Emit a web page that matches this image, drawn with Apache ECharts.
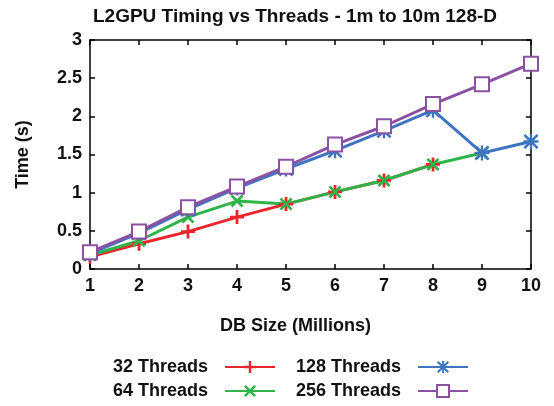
<!DOCTYPE html>
<html>
<head>
<meta charset="utf-8">
<script src="https://cdn.jsdelivr.net/npm/echarts@6/dist/echarts.min.js"></script>
<style>
  html, body { margin: 0; padding: 0; background: #fff; }
  #main { width: 554px; height: 406px; }
</style>
</head>
<body>
<div id="main"></div>
<script>
// 数据
var dbSize = [1, 2, 3, 4, 5, 6, 7, 8, 9, 10];
var t32 = [0.16, 0.33, 0.49, 0.68, 0.85, 1.01, 1.16, 1.37];
var t64 = [0.18, 0.37, 0.68, 0.89, 0.85, 1.01, 1.16, 1.37, 1.52];
var t128 = [0.20, 0.47, 0.78, 1.06, 1.31, 1.55, 1.81, 2.08, 1.52, 1.67];
var t256 = [0.22, 0.49, 0.81, 1.08, 1.34, 1.63, 1.87, 2.16, 2.42, 2.69];
var names = ["32 Threads", "64 Threads", "128 Threads", "256 Threads"];

function pairs(vals) {
  return vals.map(function (v, i) { return [dbSize[i], v]; });
}

var font = "'Liberation Sans', Arial, sans-serif";
var plus = "path://M4,0H6V4H10V6H6V10H4V6H0V4H4Z";
var cross = "path://M1.5,0L5,3.5L8.5,0L10,1.5L6.5,5L10,8.5L8.5,10L5,6.5L1.5,10L0,8.5L3.5,5L0,1.5Z";
var star = "path://M4.2,0H5.8V10H4.2Z M0,4.2H10V5.8H0Z M1.2,0L5,3.8L8.8,0L10,1.2L6.2,5L10,8.8L8.8,10L5,6.2L1.2,10L0,8.8L3.8,5L0,1.2Z";

var myChart = echarts.init(document.getElementById("main"));

var axisText = { fontFamily: font, fontWeight: "bold", fontSize: 18, color: "#111" };
var lineStyle = { color: "#000", width: 1.5 };
var legendText = { fontFamily: font, fontWeight: "bold", fontSize: 18, color: "#111", padding: [0, 12, 0, 0] };

var option = {
  animation: false,
  title: {
    text: "L2GPU Timing vs Threads - 1m to 10m 128-D",
    left: 88,
    top: 2,
    textStyle: { fontFamily: font, fontWeight: "bold", fontSize: 19, color: "#111" },
  },
  grid: { left: 90, right: 23, top: 40, bottom: 137 },
  legend: [
    {
      data: [names[0], names[1]],
      orient: "vertical",
      right: 273,
      top: 353,
      align: "right",
      itemWidth: 50,
      itemHeight: 15,
      itemGap: 6,
      textStyle: legendText,
    },
    {
      data: [names[2], names[3]],
      orient: "vertical",
      right: 80,
      top: 353,
      align: "right",
      itemWidth: 50,
      itemHeight: 15,
      itemGap: 6,
      textStyle: legendText,
    },
  ],
  xAxis: [
    {
      type: "value",
      min: 1,
      max: 10,
      interval: 1,
      position: "bottom",
      name: "DB Size (Millions)",
      nameLocation: "middle",
      nameGap: 48,
      nameTextStyle: { fontFamily: font, fontWeight: "bold", fontSize: 18, color: "#111", padding: [0, 30, 0, 0] },
      axisLine: { onZero: false, lineStyle: lineStyle },
      axisTick: { inside: true, length: 5, lineStyle: lineStyle },
      axisLabel: axisText,
      splitLine: { show: false },
    },
    {
      type: "value",
      min: 1,
      max: 10,
      interval: 1,
      position: "top",
      axisLine: { show: true, onZero: false, lineStyle: lineStyle },
      axisTick: { show: true, inside: true, length: 5, lineStyle: lineStyle },
      axisLabel: { show: false },
      splitLine: { show: false },
    },
  ],
  yAxis: [
    {
      type: "value",
      min: 0,
      max: 3,
      interval: 0.5,
      position: "left",
      name: "Time (s)",
      nameLocation: "middle",
      nameGap: 58,
      nameTextStyle: { fontFamily: font, fontWeight: "bold", fontSize: 18, color: "#111" },
      axisLine: { show: true, onZero: false, lineStyle: lineStyle },
      axisTick: { show: true, inside: true, length: 5, lineStyle: lineStyle },
      axisLabel: axisText,
      splitLine: { show: false },
    },
    {
      type: "value",
      min: 0,
      max: 3,
      interval: 0.5,
      position: "right",
      axisLine: { show: true, onZero: false, lineStyle: lineStyle },
      axisTick: { show: true, inside: true, length: 5, lineStyle: lineStyle },
      axisLabel: { show: false },
      splitLine: { show: false },
    },
  ],
  series: [
    {
      name: names[0],
      type: "line",
      data: pairs(t32),
      symbol: plus,
      symbolSize: 14,
      lineStyle: { width: 3, color: "#e8262b" },
      itemStyle: { color: "#e8262b" },
    },
    {
      name: names[1],
      type: "line",
      data: pairs(t64),
      symbol: cross,
      symbolSize: 13,
      lineStyle: { width: 3, color: "#2fb44a" },
      itemStyle: { color: "#2fb44a" },
    },
    {
      name: names[2],
      type: "line",
      data: pairs(t128),
      symbol: star,
      symbolSize: 15,
      lineStyle: { width: 3, color: "#3f74c0" },
      itemStyle: { color: "#3f74c0" },
    },
    {
      name: names[3],
      type: "line",
      data: pairs(t256),
      symbol: "emptyRect",
      symbolSize: 14,
      lineStyle: { width: 3, color: "#8b51a3" },
      itemStyle: { color: "#8b51a3", borderWidth: 3 },
    },
  ],
};

myChart.setOption(option);
</script>
</body>
</html>
